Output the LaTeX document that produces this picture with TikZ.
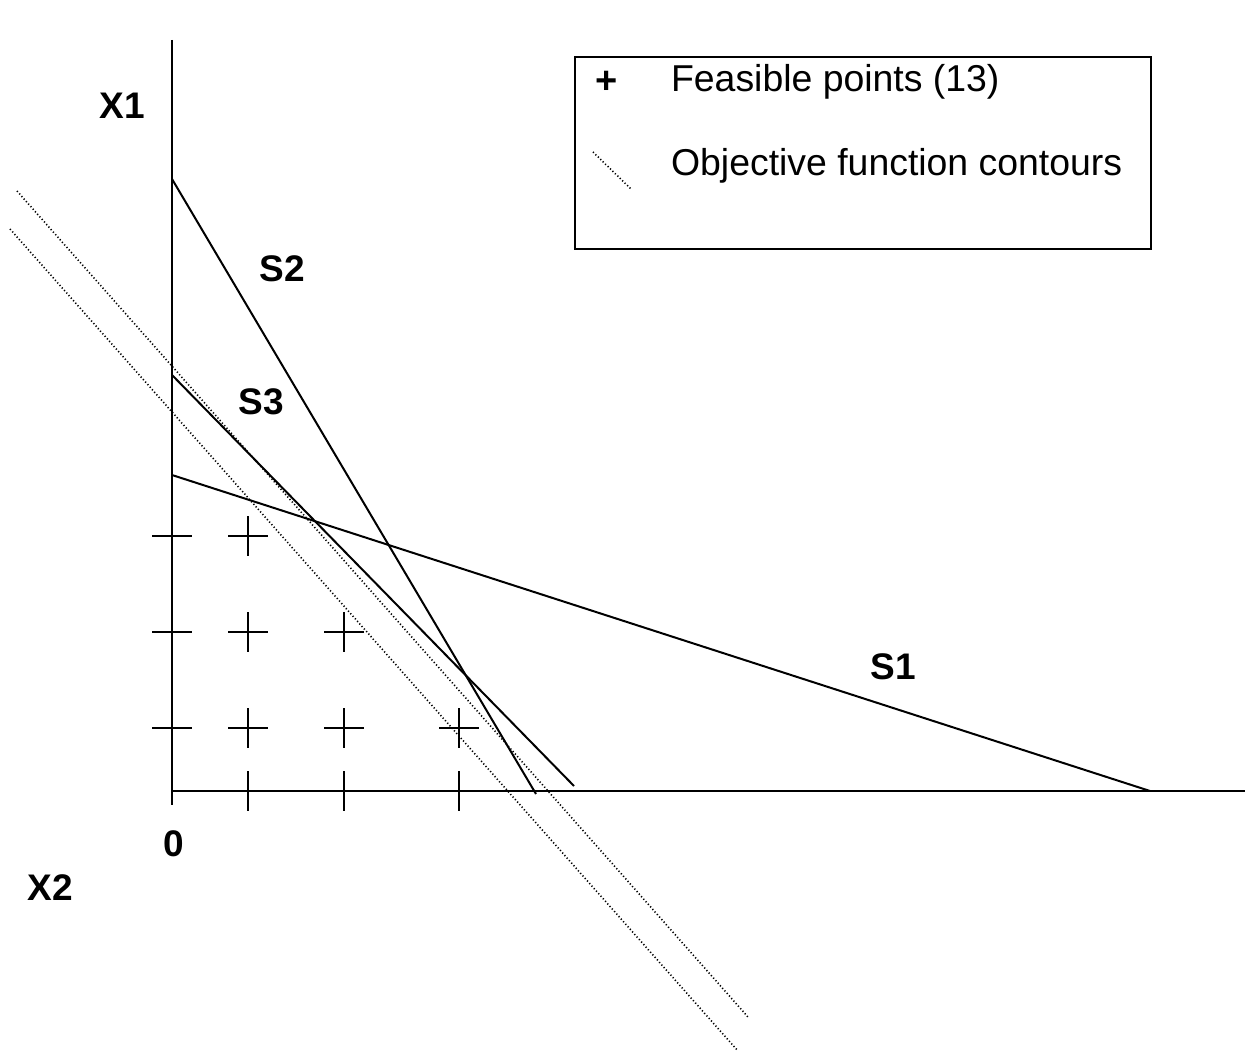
\documentclass[tikz,border=0pt]{standalone}
\usepackage{fontspec}
\setmainfont{Liberation Sans}
\begin{document}
\begin{tikzpicture}[x=0.5pt,y=-0.5pt,line cap=butt]
  \tikzset{axis/.style={line width=1.2pt},
    limit/.style={line width=1pt},
    contour/.style={line width=0.8pt,dash pattern=on 0.6pt off 1.1pt},
    lbl/.style={font=\fontsize{18.5}{21}\selectfont\bfseries},
    leg/.style={font=\fontsize{18.7}{22}\selectfont,anchor=west}}
  \useasboundingbox (0,0) rectangle (1253,1053);
  % axes
  \coordinate (O) at (172,791);
  \draw[axis] (172,40) -- (172,805);
  \draw[axis] (O) -- (1245,791);
  % constraints
  \coordinate (s1a) at (172,475);  \coordinate (s1b) at (1150,791);
  \coordinate (s2a) at (172,179);  \coordinate (s2b) at (536,794);
  \coordinate (s3a) at (172,375);  \coordinate (s3b) at (574,786);
  \draw[limit] (s1a) -- (s1b);
  \draw[limit] (s2a) -- (s2b);
  \draw[limit] (s3a) -- (s3b);
  % objective contours
  \coordinate (c1a) at (17,191);  \coordinate (c1b) at (748,1017);
  \coordinate (c2a) at (10,229);  \coordinate (c2b) at (738,1051);
  \draw[contour] (c1a) -- (c1b);
  \draw[contour] (c2a) -- (c2b);
  % feasible points
  \foreach \px/\py in {172/536,248/536,172/632,248/632,344/632,
                       172/728,248/728,344/728,459/728,248/791,344/791,459/791}
    \draw[axis] (\px-20,\py) -- (\px+20,\py) (\px,\py-20) -- (\px,\py+20);
  % labels
  \node[lbl] (x1) at (122,106) {X1};
  \node[lbl] (x2) at (50,888) {X2};
  \node[lbl] (zero) at (174,844) {0};
  \node[lbl] (S1) at (893,667) {S1};
  \node[lbl] (S2) at (282,269) {S2};
  \node[lbl] (S3) at (261,402) {S3};
  % legend
  \draw[line width=1pt] (575,57) rectangle (1151,249);
  \node[font=\fontsize{19}{22}\selectfont\bfseries] (plus) at (607,82) {+};
  \node[leg] (feas) at (664,82) {Feasible points (13)};
  \coordinate (d1) at (593,152); \coordinate (d2) at (631,189);
  \draw[contour] (d1) -- (d2);
  \node[leg] (obj) at (664,166) {Objective function contours};
\end{tikzpicture}
\end{document}
